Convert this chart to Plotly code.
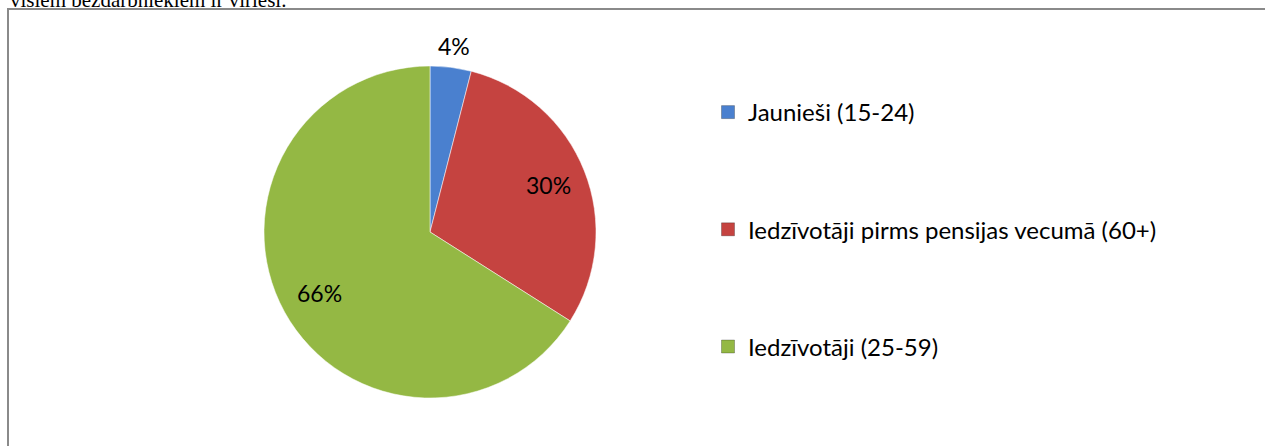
import math
import plotly.graph_objects as go

labels = ["Jaunieši (15-24)", "Iedzīvotāji pirms pensijas vecumā (60+)", "Iedzīvotāji (25-59)"]
values = [4, 30, 66]
colors = ["#4A80CF", "#C54340", "#94B844"]
label_radius = [1.13, 0.77, 0.76]   # relative distance of the % label from the centre
top_text = "visiem bezdarbniekiem ir vīrieši."

W, H = 1265, 446
cx, cy, r = 430, 232, 166

fig = go.Figure()
fig.add_trace(go.Pie(
    labels=labels, values=values, sort=False, direction="clockwise", rotation=0,
    marker=dict(colors=colors, line=dict(color="rgba(255,255,255,0.5)", width=1)),
    textinfo="none", showlegend=False, hoverinfo="label+percent",
    domain=dict(x=[(cx - r) / W, (cx + r) / W],
                y=[(H - cy - r) / H, (H - cy + r) / H]),
))
for lab, col in zip(labels, colors):
    fig.add_trace(go.Scatter(
        x=[None], y=[None], mode="markers", name=lab, legendgroup=lab,
        marker=dict(symbol="square", size=13, color=col,
                    line=dict(color="rgba(0,0,0,0.25)", width=1)),
    ))

# percentage labels placed from the slice angles
total = sum(values)
annotations = []
cum = 0
for v, rf in zip(values, label_radius):
    mid = (cum + v / 2) / total * 2 * math.pi
    cum += v
    px = cx + rf * r * math.sin(mid)
    py = cy - rf * r * math.cos(mid)
    annotations.append(dict(text=f"{round(v / total * 100)}%", xref="paper", yref="paper",
                            x=px / W, y=1 - py / H, xanchor="center", yanchor="middle",
                            showarrow=False, font=dict(family="Lato", size=23, color="black")))
annotations.append(dict(text=top_text, xref="paper", yref="paper", x=8 / W, y=1,
                        xanchor="left", yanchor="bottom", yshift=-14, showarrow=False,
                        font=dict(family="Liberation Serif", size=21, color="black")))

fig.update_layout(
    width=W, height=H, margin=dict(l=0, r=0, t=0, b=0),
    paper_bgcolor="white", plot_bgcolor="white",
    xaxis=dict(visible=False), yaxis=dict(visible=False),
    legend=dict(x=708 / W, y=1 - 90 / H, xanchor="left", yanchor="top",
                font=dict(family="Lato", size=24, color="black"),
                tracegroupgap=83, itemclick=False, bgcolor="rgba(0,0,0,0)"),
    font=dict(family="Lato"),
    shapes=[dict(type="rect", xref="paper", yref="paper",
                 x0=8 / W, x1=1.01, y0=-0.01, y1=1 - 9 / H,
                 line=dict(color="#8A8A8A", width=2), fillcolor="rgba(0,0,0,0)")],
    annotations=annotations,
)
fig.write_html("out.html", config={"displayModeBar": False},
               post_script="document.body.style.margin='0';")
